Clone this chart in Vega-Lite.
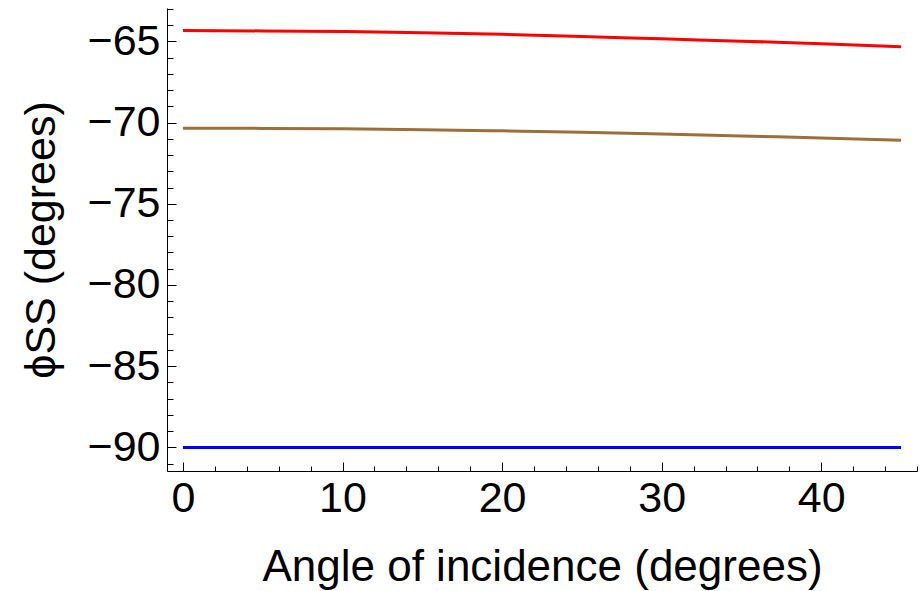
{
  "$schema": "https://vega.github.io/schema/vega-lite/v6.json",
  "autosize": "none",
  "width": 750,
  "height": 463,
  "padding": {"left": 167, "top": 8, "right": 5, "bottom": 120},
  "background": "white",
  "config": {
    "view": {"stroke": null},
    "font": "Liberation Sans",
    "axis": {"domainColor": "black", "tickColor": "black", "labelColor": "black", "titleColor": "black", "grid": false, "labelFont": "Liberation Sans", "titleFont": "Liberation Sans", "titleFontWeight": "normal", "labelOverlap": false, "labelBound": false, "labelFlush": false, "ticks": true, "tickWidth": 1}
  },
  "data": {
    "values": [
      {"angle": 0, "phi": -64.34, "series": "a"},
      {"angle": 5, "phi": -64.36, "series": "a"},
      {"angle": 10, "phi": -64.40, "series": "a"},
      {"angle": 15, "phi": -64.47, "series": "a"},
      {"angle": 20, "phi": -64.57, "series": "a"},
      {"angle": 25, "phi": -64.70, "series": "a"},
      {"angle": 30, "phi": -64.85, "series": "a"},
      {"angle": 35, "phi": -64.99, "series": "a"},
      {"angle": 40, "phi": -65.15, "series": "a"},
      {"angle": 45, "phi": -65.33, "series": "a"},
      {"angle": 0, "phi": -70.35, "series": "b"},
      {"angle": 5, "phi": -70.36, "series": "b"},
      {"angle": 10, "phi": -70.39, "series": "b"},
      {"angle": 15, "phi": -70.44, "series": "b"},
      {"angle": 20, "phi": -70.51, "series": "b"},
      {"angle": 25, "phi": -70.60, "series": "b"},
      {"angle": 30, "phi": -70.71, "series": "b"},
      {"angle": 35, "phi": -70.83, "series": "b"},
      {"angle": 40, "phi": -70.95, "series": "b"},
      {"angle": 45, "phi": -71.09, "series": "b"},
      {"angle": 0, "phi": -90, "series": "c"},
      {"angle": 5, "phi": -90, "series": "c"},
      {"angle": 10, "phi": -90, "series": "c"},
      {"angle": 15, "phi": -90, "series": "c"},
      {"angle": 20, "phi": -90, "series": "c"},
      {"angle": 25, "phi": -90, "series": "c"},
      {"angle": 30, "phi": -90, "series": "c"},
      {"angle": 35, "phi": -90, "series": "c"},
      {"angle": 40, "phi": -90, "series": "c"},
      {"angle": 45, "phi": -90, "series": "c"}
    ]
  },
  "mark": {"type": "line", "strokeWidth": 3, "interpolate": "monotone", "clip": true},
  "encoding": {
    "x": {
      "field": "angle", "type": "quantitative",
      "scale": {"domain": [-1, 46], "nice": false, "zero": false},
      "axis": {
        "title": "Angle of incidence (degrees)",
        "titleFontSize": 44, "titleBaseline": "alphabetic", "titleY": 109,
        "values": [0, 2, 4, 6, 8, 10, 12, 14, 16, 18, 20, 22, 24, 26, 28, 30, 32, 34, 36, 38, 40, 42, 44, 46],
        "labelExpr": "datum.value % 10 === 0 && datum.value <= 40 ? datum.label : ''",
        "labelFontSize": 43, "labelBaseline": "alphabetic", "labelPadding": 49,
        "tickSize": {"condition": {"test": "datum.value % 10 === 0", "value": -9}, "value": -5}
      }
    },
    "y": {
      "field": "phi", "type": "quantitative",
      "scale": {"domain": [-91.45, -62.95], "nice": false, "zero": false},
      "axis": {
        "title": "ϕSS  (degrees)",
        "titleFontSize": 43, "titleAngle": -90, "titleBaseline": "alphabetic", "titleAlign": "center",
        "titleX": -113, "titleY": 231.5,
        "values": [-91, -90, -89, -88, -87, -86, -85, -84, -83, -82, -81, -80, -79, -78, -77, -76, -75, -74, -73, -72, -71, -70, -69, -68, -67, -66, -65, -64, -63],
        "labelExpr": "datum.value % 5 === 0 ? datum.label : ''",
        "labelFontSize": 43, "labelPadding": 16,
        "tickSize": {"condition": {"test": "datum.value % 5 === 0", "value": -9}, "value": -6}
      }
    },
    "color": {
      "field": "series", "type": "nominal",
      "scale": {"domain": ["a", "b", "c"], "range": ["#ff0000", "#9e6d3a", "#0000ff"]},
      "legend": null
    }
  }
}
